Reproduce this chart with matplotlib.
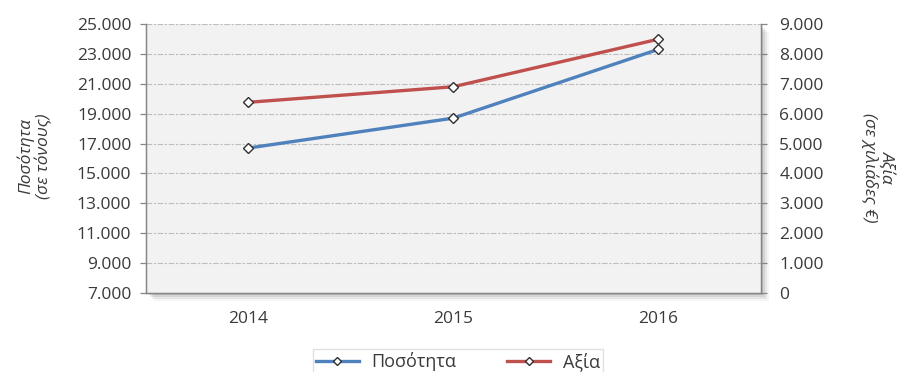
import matplotlib
matplotlib.use("Agg")
import matplotlib.pyplot as plt
from matplotlib.ticker import FuncFormatter, FixedLocator
from matplotlib.patches import Rectangle

plt.rcParams['font.family'] = ['Open Sans', 'DejaVu Sans']

years = ['2014', '2015', '2016']
quantity = [16700, 18700, 23300]    # tonnes
value = [6380, 6900, 8490]          # thousand €

left_ticks = list(range(7000, 25001, 2000))
right_ticks = list(range(0, 9001, 1000))

quantity_label = 'Ποσότητα'
value_label = 'Αξία'
left_title = 'Ποσότητα\n(σε τόνους)'
right_title = 'Αξία\n(σε χιλιάδες €)'

blue = '#4f81bd'
red = '#c0504d'
grid_c = '#bdbdbd'
text_c = '#3a3a3a'


def thousands(v, _pos=None):
    return f'{int(round(v)):,}'.replace(',', '.')


fig = plt.figure(figsize=(9.12, 3.72), dpi=100)
fig.patch.set_facecolor('white')

ax_rect = [0.160, 0.2124, 0.674, 0.7231]

# soft drop shadow behind the plot area
for i, a in enumerate([0.10, 0.08, 0.06, 0.04]):
    off = 0.0022 * (i + 1)
    fig.patches.append(Rectangle((ax_rect[0] + off, ax_rect[1] - off * 2.4),
                                 ax_rect[2], ax_rect[3],
                                 transform=fig.transFigure, facecolor='black',
                                 alpha=a, edgecolor='none', zorder=-10))

ax = fig.add_axes(ax_rect, zorder=1)
ax.set_facecolor('#f2f2f2')
ax2 = ax.twinx()

x = list(range(len(years)))
ax.plot(x, quantity, color=blue, lw=2.4, marker='D', ms=5.5,
        mfc='white', mec='#303030', mew=1.0, label=quantity_label, zorder=3)
ax2.plot(x, value, color=red, lw=2.4, marker='D', ms=5.5,
         mfc='white', mec='#303030', mew=1.0, label=value_label, zorder=3)

ax.set_xlim(-0.5, len(years) - 0.5)
ax.set_ylim(left_ticks[0], left_ticks[-1])
ax2.set_ylim(right_ticks[0], right_ticks[-1])
ax.set_xticks(x)
ax.set_xticklabels(years)
ax.yaxis.set_major_locator(FixedLocator(left_ticks))
ax2.yaxis.set_major_locator(FixedLocator(right_ticks))
ax.yaxis.set_major_formatter(FuncFormatter(thousands))
ax2.yaxis.set_major_formatter(FuncFormatter(thousands))

ax.grid(axis='y', color=grid_c, ls=(0, (5, 1.5, 2, 1.5)), lw=0.8)
ax.set_axisbelow(True)

for a in (ax, ax2):
    a.spines['top'].set_visible(False)
    for s in ('left', 'right', 'bottom'):
        a.spines[s].set_color('#868686')
        a.spines[s].set_linewidth(0.9)
    a.tick_params(axis='y', colors='#868686', labelcolor=text_c,
                  labelsize=12.5, length=4.5, width=0.9)
ax.tick_params(axis='x', length=0, labelsize=12.5, labelcolor=text_c, pad=13)
ax.tick_params(axis='y', pad=6)
ax2.tick_params(axis='y', pad=9)

fig.text(0.038, 0.58, left_title, rotation=90, ha='center', va='center',
         fontsize=12.5, style='italic', color=text_c, linespacing=1.05)
fig.text(0.963, 0.55, right_title, rotation=270, ha='center', va='center',
         fontsize=12.5, style='italic', color=text_c, linespacing=1.05)

h1, l1 = ax.get_legend_handles_labels()
h2, l2 = ax2.get_legend_handles_labels()
leg = fig.legend(h1 + h2, l1 + l2, loc='upper center',
                 bbox_to_anchor=(0.502, 0.085), ncol=2, frameon=True,
                 fancybox=False, edgecolor='#d9d9d9', fontsize=13,
                 handlelength=2.4, columnspacing=2.8, borderpad=0.15,
                 handletextpad=0.7, markerscale=0.75)
for t in leg.get_texts():
    t.set_color(text_c)

fig.savefig('out.png', dpi=100)
